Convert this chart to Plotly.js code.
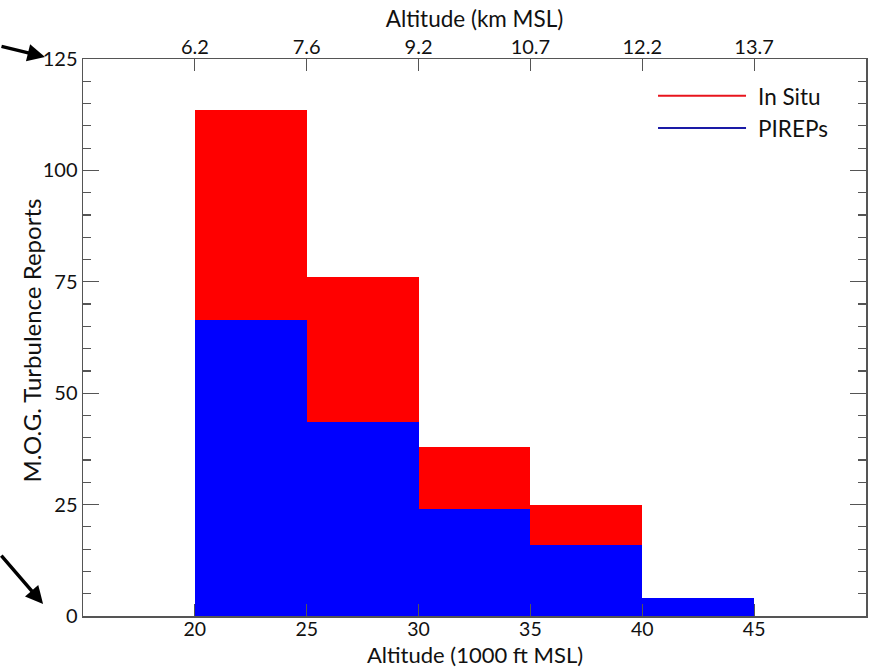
<!DOCTYPE html>
<html>
<head>
<meta charset="utf-8">
<script src="https://cdn.plot.ly/plotly-3.0.1.min.js"></script>
<style>html,body{margin:0;padding:0;background:#fff;}#chart{width:872px;height:667px;}</style>
</head>
<body>
<div id="chart"></div>
<script>
// Altitude bins (1000 ft MSL), centres of 5-kft bins
const binCenters = [22.5, 27.5, 32.5, 37.5, 42.5];
const binWidth = 5;
// Stacked counts
const pirepCounts = [66.5, 43.5, 24, 16, 4];
const inSituCounts = [47, 32.5, 14, 9, 0];
// Axis tick values and labels
const ftTicks = [20, 25, 30, 35, 40, 45];
const kmLabels = ['6.2', '7.6', '9.2', '10.7', '12.2', '13.7'];
const yTicks = [0, 25, 50, 75, 100, 125];

const FONT = 'Lato, "Open Sans", sans-serif';
const axisCol = '#555';

const traces = [
  {type: 'bar', x: binCenters, y: pirepCounts, width: binWidth, marker: {color: '#0000ff', line: {width: 0}}, showlegend: false, hoverinfo: 'skip'},
  {type: 'bar', x: binCenters, y: inSituCounts, width: binWidth, marker: {color: '#ff0000', line: {width: 0}}, showlegend: false, hoverinfo: 'skip'},
  {type: 'scatter', mode: 'lines', x: [null], y: [null], name: 'In Situ', line: {color: '#e8141c', width: 2}},
  {type: 'scatter', mode: 'lines', x: [null], y: [null], name: 'PIREPs', line: {color: '#1a1aa6', width: 2}},
  {type: 'scatter', mode: 'markers', x: [null], y: [null], xaxis: 'x2', showlegend: false, hoverinfo: 'skip'}
];

const layout = {
  width: 872, height: 667,
  margin: {l: 83, r: 6, t: 59, b: 51},
  paper_bgcolor: '#fff', plot_bgcolor: '#fff',
  font: {family: FONT, size: 20, color: '#111'},
  barmode: 'stack', bargap: 0,
  showlegend: true,
  legend: {x: 0.728, xanchor: 'left', y: 0.972, yanchor: 'top', font: {size: 22.5, family: FONT}, itemwidth: 95, bgcolor: 'rgba(0,0,0,0)', traceorder: 'normal'},
  xaxis: {
    range: [15, 50], tickvals: ftTicks, ticktext: ftTicks.map(String),
    ticks: 'inside', ticklen: 12, tickcolor: axisCol, tickwidth: 1.2,
    showline: true, linecolor: axisCol, linewidth: 1.5, mirror: true,
    showgrid: false, zeroline: false,
    tickfont: {size: 19.5}, ticklabelstandoff: -5
  },
  xaxis2: {
    overlaying: 'x', side: 'top', range: [15, 50], tickvals: ftTicks, ticktext: kmLabels,
    ticks: 'inside', ticklen: 12, tickcolor: axisCol, tickwidth: 1.2,
    showline: false, showgrid: false, zeroline: false,
    tickfont: {size: 20},
    title: {text: 'Altitude (km MSL)', font: {size: 22.5}, standoff: 0}
  },
  yaxis: {
    range: [0, 125], tickvals: yTicks,
    ticks: 'inside', ticklen: 16, tickcolor: axisCol, tickwidth: 1.2,
    minor: {dtick: 5, ticks: 'inside', ticklen: 8, tickcolor: axisCol, tickwidth: 1.2, showgrid: false},
    showline: true, linecolor: axisCol, linewidth: 1.5, mirror: 'ticks',
    showgrid: false, zeroline: false,
    tickfont: {size: 20}
  },
  annotations: [
    {xref: 'paper', yref: 'paper', x: 0.5, y: -0.0685, xanchor: 'center', yanchor: 'middle',
     text: 'Altitude (1000 ft MSL)', showarrow: false, font: {size: 22}, borderpad: 0},
    {xref: 'paper', yref: 'paper', x: -0.0658, y: 0.4955, xanchor: 'center', yanchor: 'middle',
     text: 'M.O.G. Turbulence Reports', textangle: -90, showarrow: false, font: {size: 24}, borderpad: 0},
    {xref: 'paper', yref: 'paper', x: -0.0485, y: 1.0036, text: '', showarrow: true,
     arrowhead: 2, arrowsize: 1, arrowwidth: 3.5, arrowcolor: '#000', ax: -46, ay: -11, axref: 'pixel', ayref: 'pixel'},
    {xref: 'paper', yref: 'paper', x: -0.051, y: 0.0215, text: '', showarrow: true,
     arrowhead: 2, arrowsize: 1, arrowwidth: 3.5, arrowcolor: '#000', ax: -44, ay: -50, axref: 'pixel', ayref: 'pixel'}
  ]
};

Plotly.newPlot('chart', traces, layout, {staticPlot: true}).then(function () {
  document.querySelectorAll('.legend .legendlines path').forEach(function (p) {
    p.setAttribute('d', 'M5,0h88');
  });
});
</script>
</body>
</html>
